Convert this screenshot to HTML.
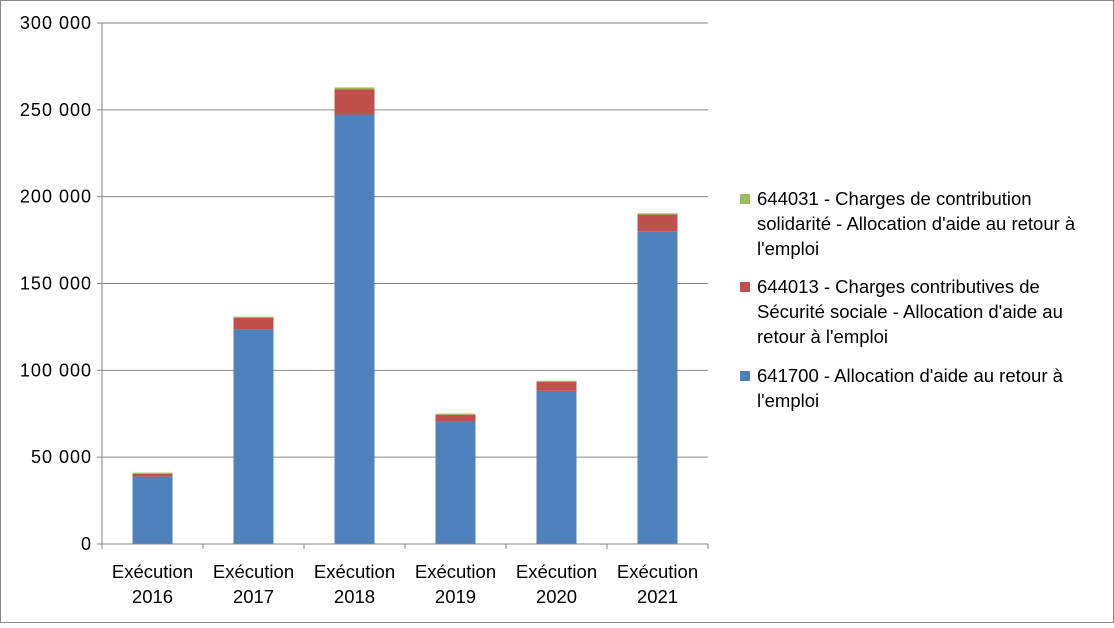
<!DOCTYPE html>
<html><head><meta charset="utf-8"><style>
body{margin:0;background:#fff;}
svg text{font-family:"Liberation Sans",Arial,sans-serif;fill:#000;}
</style></head><body>
<svg width="1114" height="623">
<rect x="0.5" y="0.5" width="1113" height="622" fill="#fff" stroke="#888"/>
<g id="grid"></g><g id="bars"></g><g id="axes"></g>
<g>
 <rect x="740" y="194" width="10" height="10" fill="#9BBB59"/>
 <text x="757" y="205" font-size="18.5"><tspan x="757">644031 - Charges de contribution</tspan><tspan x="757" dy="25">solidarité - Allocation d'aide au retour à</tspan><tspan x="757" dy="25">l'emploi</tspan></text>
 <rect x="740" y="282" width="10" height="10" fill="#C0504D"/>
 <text x="757" y="293" font-size="18.5"><tspan x="757">644013 - Charges contributives de</tspan><tspan x="757" dy="25">Sécurité sociale - Allocation d'aide au</tspan><tspan x="757" dy="25">retour à l'emploi</tspan></text>
 <rect x="740" y="371" width="10" height="10" fill="#4F81BD"/>
 <text x="757" y="382" font-size="18.5"><tspan x="757">641700 - Allocation d'aide au retour à</tspan><tspan x="757" dy="25">l'emploi</tspan></text>
</g>
</svg>
<script>
const categories=["2016","2017","2018","2019","2020","2021"];
const s641700=[38800,123600,247300,70500,88200,180100];
const s644013=[1600,6700,14400,3900,5200,9600];
const s644031=[700,600,1200,700,600,700];
const yTicks=[0,50000,100000,150000,200000,250000,300000];
const yTickLabels=["0","50 000","100 000","150 000","200 000","250 000","300 000"];
const NS="http://www.w3.org/2000/svg";
const x0=102,x1=708,y0=544,y1=23,yMax=300000;
const yS=v=>y0-(v/yMax)*(y0-y1);
const band=(x1-x0)/categories.length;
const xC=i=>x0+band*(i+0.5);
function mk(tag,attrs,parent){const e=document.createElementNS(NS,tag);for(const k in attrs)e.setAttribute(k,attrs[k]);document.getElementById(parent).appendChild(e);return e;}
yTicks.forEach((t,i)=>{
 if(t>0){const g=mk('line',{x1:x0,x2:x1,y1:yS(t),y2:yS(t),stroke:'#868686','stroke-width':1},'grid');
 
 }
 const tk=mk('line',{x1:x0-5,x2:x0,y1:yS(t),y2:yS(t),stroke:'#868686'},'axes');
 
 
 const tx=mk('text',{x:x0-10,y:yS(t)+6,'text-anchor':'end','font-size':18,'letter-spacing':'1'},'axes');
 tx.textContent=yTickLabels[i];
 
 
});
const series=[[s641700,'#4F81BD','641700'],[s644013,'#C0504D','644013'],[s644031,'#9BBB59','644031']];
categories.forEach((c,i)=>{
 let base=0;
 series.forEach(([arr,col,nm])=>{
  const v=arr[i];
  const r=mk('rect',{x:xC(i)-20,width:40,y:yS(base+v),height:yS(base)-yS(base+v),fill:col},'bars');
  
  
  base+=v;
 });
 const t=mk('text',{x:xC(i),y:578,'text-anchor':'middle','font-size':18.5},'axes');
 t.innerHTML='<tspan x="'+xC(i)+'">Exécution</tspan><tspan x="'+xC(i)+'" dy="25">'+c+'</tspan>';
 
 
});
for(let i=0;i<=categories.length;i++){
 const tk=mk('line',{x1:x0+band*i,x2:x0+band*i,y1:y0,y2:y0+5,stroke:'#868686'},'axes');
 
 
}
const ya=mk('line',{x1:x0,x2:x0,y1:y1,y2:y0,stroke:'#868686'},'axes');


const xa=mk('line',{x1:x0,x2:x1,y1:y0,y2:y0,stroke:'#868686'},'axes');


</script>
</body></html>
